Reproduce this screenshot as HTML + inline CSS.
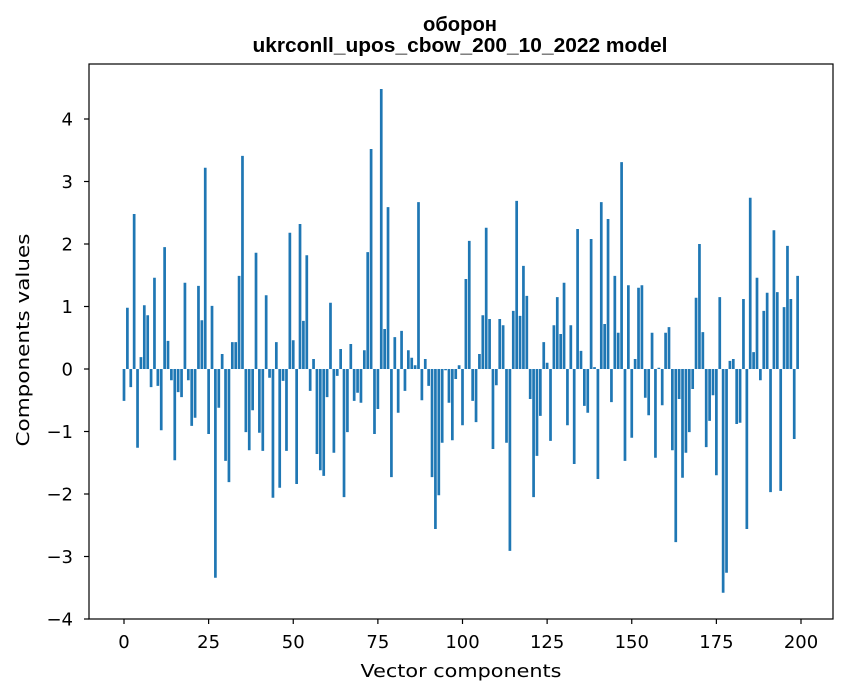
<!DOCTYPE html>
<html><head><meta charset="utf-8"><style>
body{margin:0;background:#fff;}
svg{display:block;font-family:"DejaVu Sans","Liberation Sans",sans-serif;}
</style></head><body>
<svg id="chart" width="847" height="696">
<text x="460" y="31" text-anchor="middle" font-weight="bold" font-size="20" font-family="Liberation Sans, sans-serif" textLength="74" lengthAdjust="spacingAndGlyphs">оборон</text>
<text x="460" y="52" text-anchor="middle" font-weight="bold" font-size="20" font-family="Liberation Sans, sans-serif" textLength="415" lengthAdjust="spacingAndGlyphs">ukrconll_upos_cbow_200_10_2022 model</text>
<g id="bars"></g>
<g id="axes"></g>
<rect x="89" y="64" width="744" height="555" fill="none" stroke="#000" stroke-width="1.2"/>
<text x="461" y="677" text-anchor="middle" font-size="18" textLength="201" lengthAdjust="spacingAndGlyphs">Vector components</text>
<text transform="translate(29,340) rotate(-90)" text-anchor="middle" font-size="18" textLength="213" lengthAdjust="spacingAndGlyphs">Components values</text>
</svg>
<script>
const values = [-0.51,0.98,-0.29,2.48,-1.26,0.19,1.02,0.86,-0.29,1.46,
-0.27,-0.98,1.95,0.45,-0.18,-1.46,-0.37,-0.45,1.38,-0.18,
-0.91,-0.78,1.33,0.78,3.22,-1.04,1.01,-3.34,-0.62,0.24,
-1.47,-1.81,0.43,0.43,1.49,3.41,-1.01,-1.30,-0.66,1.86,
-1.02,-1.31,1.18,-0.14,-2.06,0.43,-1.90,-0.19,-1.31,2.18,
0.46,-1.84,2.32,0.77,1.82,-0.35,0.16,-1.36,-1.62,-1.71,
-0.45,1.06,-1.34,-0.11,0.32,-2.05,-1.01,0.40,-0.51,-0.38,
-0.54,0.30,1.87,3.52,-1.04,-0.64,4.48,0.64,2.59,-1.73,
0.51,-0.70,0.61,-0.35,0.30,0.18,0.06,2.67,-0.50,0.16,
-0.27,-1.73,-2.56,-2.02,-1.18,-0.02,-0.54,-1.14,-0.16,0.06,
-0.90,1.44,2.05,-0.51,-0.85,0.24,0.86,2.26,0.80,-1.28,
-0.26,0.80,0.70,-1.18,-2.91,0.93,2.69,0.85,1.65,1.17,
-0.48,-2.05,-1.39,-0.75,0.43,0.10,-1.15,0.70,1.15,0.56,
1.38,-0.90,0.70,-1.52,2.24,0.29,-0.59,-0.70,2.08,0.03,
-1.76,2.67,0.72,2.40,-0.53,1.49,0.58,3.31,-1.47,1.34,
-1.10,0.16,1.30,1.34,-0.46,-0.74,0.58,-1.42,0.02,-0.58,
0.58,0.67,-1.30,-2.77,-0.48,-1.74,-1.34,-1.01,-0.32,1.14,
2.00,0.59,-1.25,-0.83,-0.42,-1.70,1.15,-3.58,-3.26,0.13,
0.16,-0.88,-0.86,1.12,-2.56,2.74,0.27,1.46,-0.18,0.93,
1.22,-1.97,2.22,1.23,-1.95,0.99,1.97,1.12,-1.12,1.49];
const xTicks = [0,25,50,75,100,125,150,175,200];
const yTicks = [-4,-3,-2,-1,0,1,2,3,4];
const NS='http://www.w3.org/2000/svg';
const xs = v => 124 + v*3.385;
const ys = v => 369 - v*62.5;
const bars = document.getElementById('bars');
values.forEach((v,i)=>{
  const r=document.createElementNS(NS,'rect');
  const y0=ys(Math.max(v,0)), y1=ys(Math.min(v,0));
  r.setAttribute('x',xs(i-0.4)); r.setAttribute('width',3.385*0.8);
  r.setAttribute('y',y0); r.setAttribute('height',Math.max(y1-y0,0.3));
  r.setAttribute('fill','#1f77b4');
  
  
  bars.appendChild(r);
});
const axes=document.getElementById('axes');
xTicks.forEach(t=>{
  const l=document.createElementNS(NS,'line');
  l.setAttribute('x1',xs(t));l.setAttribute('x2',xs(t));l.setAttribute('y1',619);l.setAttribute('y2',624);l.setAttribute('stroke','#000');l.setAttribute('stroke-width','1.2');
  
  
  axes.appendChild(l);
  const tx=document.createElementNS(NS,'text');
  tx.setAttribute('x',xs(t));tx.setAttribute('y',648);tx.setAttribute('text-anchor','middle');tx.setAttribute('font-size','18');
  tx.textContent=t;
  
  
  axes.appendChild(tx);
});
yTicks.forEach(t=>{
  const l=document.createElementNS(NS,'line');
  l.setAttribute('x1',84);l.setAttribute('x2',89);l.setAttribute('y1',ys(t));l.setAttribute('y2',ys(t));l.setAttribute('stroke','#000');l.setAttribute('stroke-width','1.2');
  
  
  axes.appendChild(l);
  const tx=document.createElementNS(NS,'text');
  tx.setAttribute('x',73);tx.setAttribute('y',ys(t)+6.5);tx.setAttribute('text-anchor','end');tx.setAttribute('font-size','18');
  tx.textContent=t<0?'\u2212'+(-t):t;
  
  
  axes.appendChild(tx);
});
</script>
</body></html>
